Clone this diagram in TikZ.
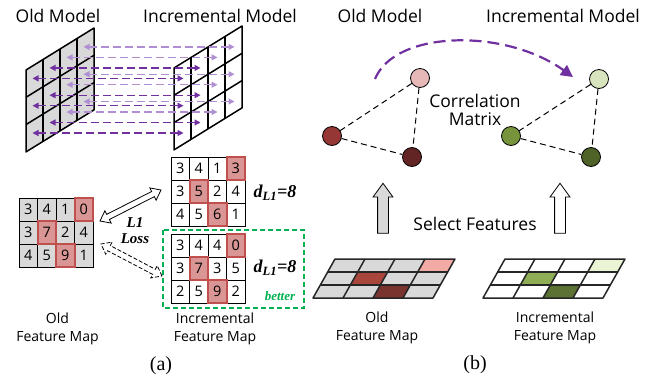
\documentclass[tikz,border=0pt]{standalone}
\usepackage{fontspec}
\setsansfont{Open Sans}
\newfontfamily\serif{Liberation Serif}
\usetikzlibrary{positioning, calc, arrows.meta, shapes.arrows}
\definecolor{violetdark}{HTML}{7030A0}
\definecolor{violetlight}{HTML}{B08ED2}
\definecolor{mapgray}{HTML}{D9D9D9}
\definecolor{hifill}{HTML}{D99694}
\definecolor{hiedge}{HTML}{C0504D}
\definecolor{betgreen}{HTML}{00B050}
\definecolor{redA}{HTML}{F2ABA4}
\definecolor{redB}{HTML}{A9463C}
\definecolor{redC}{HTML}{793430}
\definecolor{greenA}{HTML}{EBF5D6}
\definecolor{greenB}{HTML}{8EAD55}
\definecolor{greenC}{HTML}{5B7234}
\definecolor{nodePink}{HTML}{E6B9B8}
\definecolor{nodeRed}{HTML}{953735}
\definecolor{nodeDark}{HTML}{632523}
\definecolor{nodeLight}{HTML}{D7E4BD}
\definecolor{nodeGreen}{HTML}{77933C}
\definecolor{nodeOlive}{HTML}{4F6228}
\newcommand{\mapcell}[3]{\fill[#1] (#2,#3) -- ++(1,0) -- ++(0,1) -- ++(-1,0) -- cycle;}

\begin{document}
\begin{tikzpicture}[
		x=1pt, y=-1pt,
		title/.style={font=\sffamily\fontsize{17.5}{20}\selectfont},
		caption/.style={font=\sffamily\fontsize{14}{18}\selectfont, align=center},
		cell/.style={draw, line width=1pt, minimum width=18.5pt, minimum height=23pt, inner sep=0pt, font=\sffamily\fontsize{14.5}{15}\selectfont},
		hicell/.style={cell, fill=hifill, draw=hiedge, line width=2pt},
		plane/.style={line width=1.5pt, line join=round},
		featlink/.style={dash pattern=on 8pt off 4pt, line width=1.2pt, {Triangle[length=6pt,width=6pt]}-{Triangle[length=6pt,width=6pt]}},
		lossarrow/.style={double arrow, draw, fill=white, line width=0.8pt, inner xsep=0pt, inner ysep=2.5pt, double arrow head extend=4pt, double arrow tip angle=75},
		selarrow/.style={single arrow, draw, line width=0.8pt, inner xsep=0pt, inner ysep=5pt, minimum height=50pt, single arrow head extend=4.5pt, single arrow tip angle=72, rotate=90},
		feat/.style={circle, draw, line width=0.8pt, minimum size=19pt, inner sep=0pt},
		corr/.style={dash pattern=on 6pt off 4pt, line width=1pt},
		bold/.style={font=\serif\fontsize{18}{20}\selectfont\bfseries\itshape},
	]
	\useasboundingbox (0,0) rectangle (655,381);

	\node[title] (title_old_a) at (58,16) {Old Model};
	\node[title] (title_inc_a) at (220,16) {Incremental Model};
	\node[title] (title_old_b) at (380,16) {Old Model};
	\node[title] (title_inc_b) at (563,16) {Incremental Model};

	\begin{scope}[shift={(26,70)}, x={(17pt,10.5pt)}, y={(0pt,-27.3pt)}]
		\draw[plane, fill=mapgray] (0,0) -- (4,0) -- (4,3) -- (0,3) -- cycle;
		\foreach \i in {1,2,3} \draw[plane] (\i,0) -- (\i,3);
		\foreach \j in {1,2} \draw[plane] (0,\j) -- (4,\j);
		\foreach \i in {0,...,3} \foreach \j in {0,1,2} \coordinate (po-\i-\j) at (\i+0.5,\j+0.5);
	\end{scope}
	\begin{scope}[shift={(174,68)}, x={(17pt,10.5pt)}, y={(0pt,-27.3pt)}]
		\draw[plane, fill=white] (0,0) -- (4,0) -- (4,3) -- (0,3) -- cycle;
		\foreach \i in {1,2,3} \draw[plane] (\i,0) -- (\i,3);
		\foreach \j in {1,2} \draw[plane] (0,\j) -- (4,\j);
		\foreach \i in {0,...,3} \foreach \j in {0,1,2} \coordinate (pn-\i-\j) at (\i+0.5,\j+0.5);
	\end{scope}
	\foreach \i/\tone in {3/violetlight,2/violetlight,1/violetdark,0/violetdark}
		\foreach \j in {0,1,2}
			\draw[featlink, draw=\tone] ([xshift=-2pt]po-\i-\j) -- ([xshift=1pt]pn-\i-\j |- po-\i-\j);

	\foreach \row [count=\r from 0] in {{3,4,1,0},{3,7,2,4},{4,5,9,1}}
		\foreach \v [count=\c from 0] in \row
			\node[cell, fill=mapgray] (old-\r-\c) at (28.25+\c*18.5, 209.5+\r*23) {\v};
	\foreach \row [count=\r from 0] in {{3,4,1,3},{3,5,2,4},{4,5,6,1}}
		\foreach \v [count=\c from 0] in \row
			\node[cell] (inca-\r-\c) at (180.25+\c*18.5, 168.5+\r*23) {\v};
	\foreach \row [count=\r from 0] in {{3,4,4,0},{3,7,3,5},{2,5,9,2}}
		\foreach \v [count=\c from 0] in \row
			\node[cell] (incb-\r-\c) at (180.25+\c*18.5, 245.5+\r*23) {\v};
	\foreach \r/\c/\v in {0/3/0,1/1/7,2/2/9} \node[hicell] at (old-\r-\c) {\v};
	\foreach \r/\c/\v in {0/3/3,1/1/5,2/2/6} \node[hicell] at (inca-\r-\c) {\v};
	\foreach \r/\c/\v in {0/3/0,1/1/7,2/2/9} \node[hicell] at (incb-\r-\c) {\v};

	\draw[betgreen, dash pattern=on 5pt off 3pt, line width=1.2pt] (163,230) rectangle (304,308);
	\node[bold] (dist_a) at (275,193) {d\textsubscript{L1}=8};
	\node[bold] (dist_b) at (275,268) {d\textsubscript{L1}=8};
	\node[bold, font=\serif\fontsize{13}{15}\selectfont\bfseries\itshape, text=betgreen] (better) at (280,296) {better};
	\node[bold, align=center, font=\serif\fontsize{15}{16}\selectfont\bfseries\itshape] (loss) at (135,231) {L1\\Loss};

	\coordinate (lossS1) at (100,221);
	\coordinate (lossE1) at (161,190);
	\coordinate (lossS2) at (101,244);
	\coordinate (lossE2) at (162,276);
	\path let \p1=($(lossE1)-(lossS1)$), \n1={atan2(\y1,\x1)}, \n2={veclen(\x1,\y1)} in
		node[lossarrow, rotate=\n1, minimum height=\n2] (loss_top) at ($(lossS1)!0.5!(lossE1)$) {};
	\path let \p1=($(lossE2)-(lossS2)$), \n1={atan2(\y1,\x1)}, \n2={veclen(\x1,\y1)} in
		node[lossarrow, dash pattern=on 4pt off 2pt, rotate=\n1, minimum height=\n2] (loss_bottom) at ($(lossS2)!0.5!(lossE2)$) {};

	\node[caption] (cap_old_a) at (57.5,329) {Old\\Feature Map};
	\node[caption] (cap_inc_a) at (215,329) {Incremental\\Feature Map};
	\node[font=\serif\fontsize{20}{22}\selectfont] (label_a) at (161,366) {(a)};

	\begin{scope}[shift={(313,298)}, x={(30pt,0pt)}, y={(7.33pt,13pt)}]
		\fill[mapgray] (0,0) -- (4,0) -- (4,3) -- (0,3) -- cycle;
		\mapcell{redA}{3}{2}
		\mapcell{redB}{1}{1}
		\mapcell{redC}{2}{0}
		\draw[plane, black!85] (0,0) -- (4,0) -- (4,3) -- (0,3) -- cycle;
		\foreach \i in {1,2,3} \draw[plane, black!85] (\i,0) -- (\i,3);
		\foreach \j in {1,2} \draw[plane, black!85] (0,\j) -- (4,\j);
	\end{scope}
	\begin{scope}[shift={(483,298)}, x={(30pt,0pt)}, y={(7.33pt,13pt)}]
		\fill[white] (0,0) -- (4,0) -- (4,3) -- (0,3) -- cycle;
		\mapcell{greenA}{3}{2}
		\mapcell{greenB}{1}{1}
		\mapcell{greenC}{2}{0}
		\draw[plane, black!85] (0,0) -- (4,0) -- (4,3) -- (0,3) -- cycle;
		\foreach \i in {1,2,3} \draw[plane, black!85] (\i,0) -- (\i,3);
		\foreach \j in {1,2} \draw[plane, black!85] (0,\j) -- (4,\j);
	\end{scope}

	\node[selarrow, fill=mapgray] (sel_old) at (383,212) {};
	\node[selarrow, fill=white] (sel_inc) at (560,212) {};
	\node[title] (select) at (475,224) {Select Features};

	\node[feat, fill=nodePink] (old_a) at (420,78) {};
	\node[feat, fill=nodeRed] (old_b) at (332,136) {};
	\node[feat, fill=nodeDark] (old_c) at (412,157) {};
	\node[feat, fill=nodeLight] (inc_a) at (599,79) {};
	\node[feat, fill=nodeGreen] (inc_b) at (511,136) {};
	\node[feat, fill=nodeOlive] (inc_c) at (591,157) {};
	\draw[corr] (old_a) -- (old_b);
	\draw[corr] (old_a) -- (old_c);
	\draw[corr] (old_b) -- (old_c);
	\draw[corr] (inc_a) -- (inc_b);
	\draw[corr] (inc_a) -- (inc_c);
	\draw[corr] (inc_b) -- (inc_c);
	\node[title, align=center, font=\sffamily\fontsize{17.5}{18}\selectfont] (corr_text) at (475,110) {Correlation\\Matrix};

	\coordinate (curve_start) at (375,79);
	\coordinate (curve_end) at (573,77);
	\draw[violetdark, line width=2.2pt, dash pattern=on 12pt off 6pt, -{Triangle[length=12pt,width=12pt]}] (curve_start) .. controls (395,30) and (505,28) .. (curve_end);

	\node[caption] (cap_old_b) at (377,328) {Old\\Feature Map};
	\node[caption] (cap_inc_b) at (555,328) {Incremental\\Feature Map};
	\node[font=\serif\fontsize{20}{22}\selectfont] (label_b) at (475,365) {(b)};
\end{tikzpicture}
\end{document}
